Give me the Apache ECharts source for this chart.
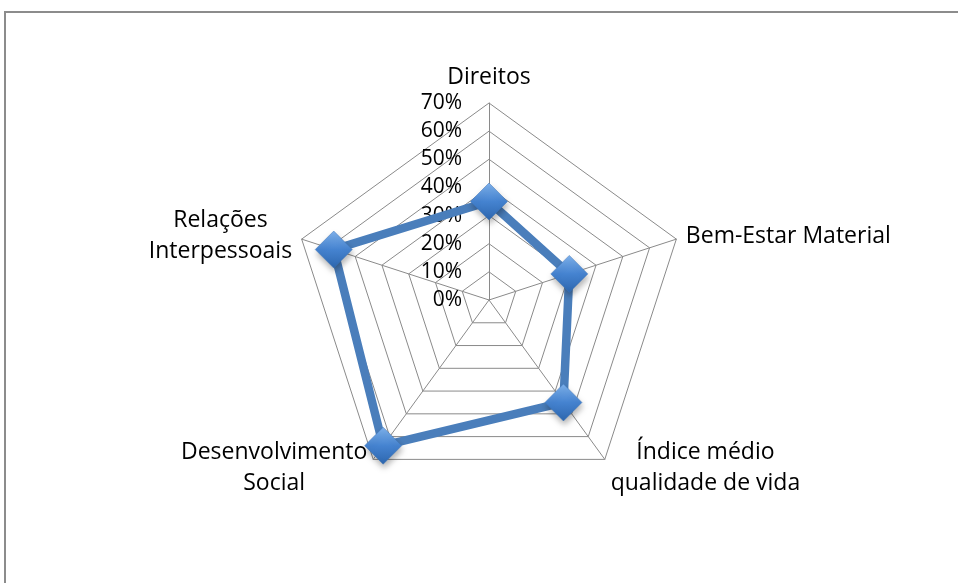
<!DOCTYPE html>
<html><head><meta charset="utf-8">
<script src="https://cdn.jsdelivr.net/npm/echarts@6/dist/echarts.min.js"></script>
<style>html,body{margin:0;padding:0;background:#fff}#c{width:958px;height:583px}</style>
</head><body><div id="c"></div>
<script>
// ECharts radar runs counter-clockwise from the top
const categories = ['Direitos', 'Relações\nInterpessoais', 'Desenvolvimento\nSocial', 'Índice médio\nqualidade de vida', 'Bem-Estar Material'];
const values = [0.35, 0.58, 0.64, 0.45, 0.30];
const tickLabels = ['0%', '10%', '20%', '30%', '40%', '50%', '60%', '70%'];
const axisMax = 0.7;

const font = 'Open Sans';
const fontSize = 23;

const chart = echarts.init(document.getElementById('c'));
const cx = 489, cy = 300, R = 197;
chart.setOption({
  animation: false,
  graphic: [{
    type: 'polyline', shape: { points: [[5, 583], [5, 12], [958, 12]] },
    style: { stroke: '#8c8c8c', lineWidth: 2, fill: null }
  }],
  grid: { left: cx, top: cy - R, height: R, width: 1, containLabel: false },
  xAxis: { type: 'value', show: false },
  yAxis: {
    type: 'value', min: 0, max: axisMax, interval: 0.1,
    axisLine: { show: false }, axisTick: { show: false }, splitLine: { show: false },
    axisLabel: { margin: 27, color: '#000', fontFamily: font, fontSize: 21,
      formatter: v => tickLabels[Math.round(v * 10)] }
  },
  radar: {
    center: [cx, cy], radius: R, shape: 'polygon', splitNumber: 7,
    indicator: categories.map(n => ({ name: n, min: 0, max: axisMax })),
    axisName: {
      color: '#000', fontFamily: font, fontSize: fontSize, lineHeight: 31,
      formatter: name => name.split('\n').map(l => '{c|' + l + '}').join('\n'),
      rich: { c: { align: 'center', fontFamily: font, fontSize: fontSize, lineHeight: 31, color: '#000' } }
    },
    nameGap: 10,
    splitLine: { lineStyle: { color: '#8a8a8a', width: 1 } },
    splitArea: { show: false },
    axisLine: { lineStyle: { color: '#8a8a8a', width: 1 } }
  },
  series: [{
    type: 'radar', z: 5,
    data: [{ value: values }],
    lineStyle: { color: '#4a7ebb', width: 8.5 },
    symbol: 'diamond', symbolSize: 37,
    itemStyle: {
      color: new echarts.graphic.LinearGradient(0, 0, 0, 1, [
        { offset: 0, color: '#7fb2ec' }, { offset: 0.5, color: '#4583d0' }, { offset: 1, color: '#2d66ae' }
      ]),
      borderColor: '#3d74b8', borderWidth: 0.5,
      shadowColor: 'rgba(0,0,0,0.3)', shadowBlur: 6, shadowOffsetX: 1, shadowOffsetY: 4
    }
  }]
});
</script></body></html>
